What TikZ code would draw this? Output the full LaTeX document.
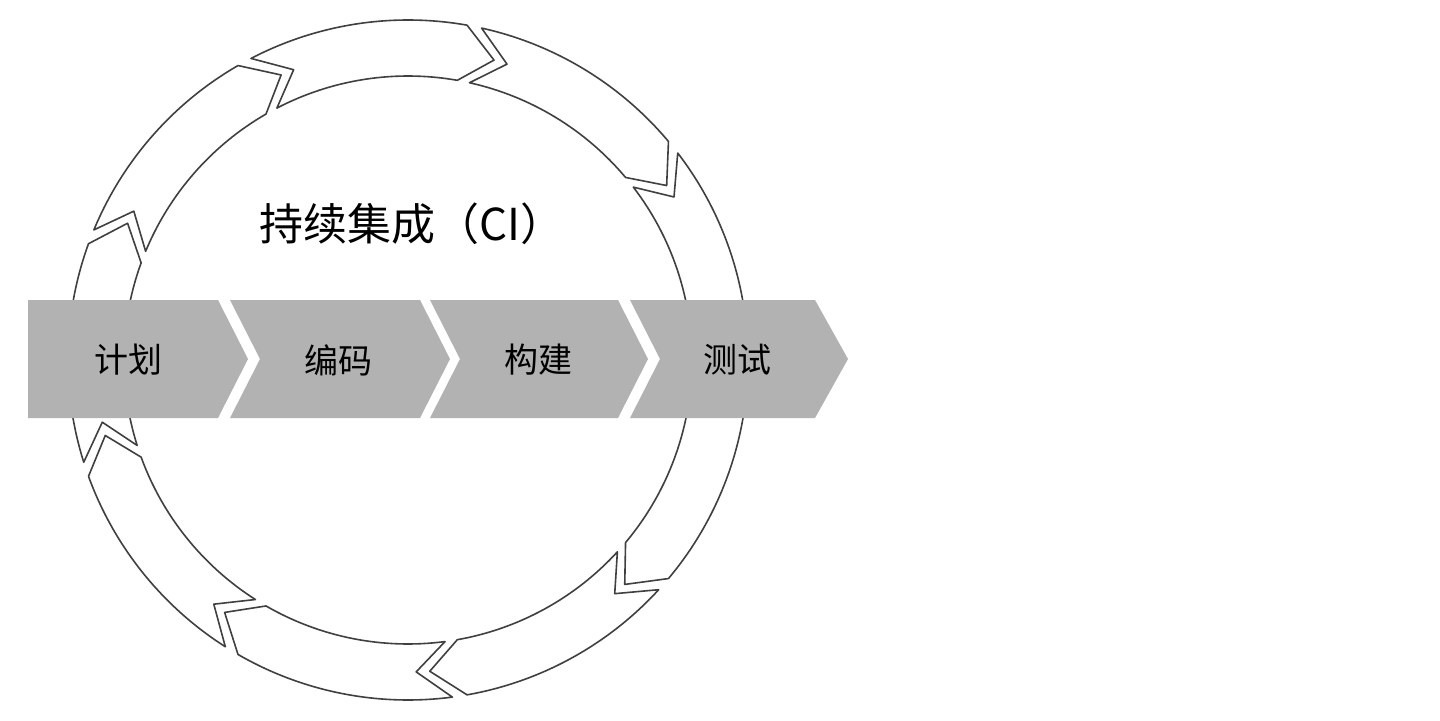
\documentclass[tikz,border=0pt]{standalone}
\usepackage{fontspec}
\newfontfamily\cjk{Noto Sans CJK SC}
\begin{document}
\begin{tikzpicture}[x=0.5pt,y=0.5pt,
  seg/.style={draw=black!75,line width=0.8pt,fill=white,line join=round},
  bar/.style={fill=black!30,draw=none},
  lab/.style={font=\cjk\fontsize{17}{20}\selectfont}]
\useasboundingbox (0,0) rectangle (1440,720);
\fill[white] (0,0) rectangle (1440,720);
\def\Ro{340}\def\Ri{284}\def\Rm{312}\def\d{6}\def\g{2.5}
\begin{scope}[shift={(408,360)}]
\foreach \b in {80,40,0,-40,-80,-120,-160,-200,-240}{
  \pgfmathsetmacro\bs{\b-\g}
  \pgfmathsetmacro\be{\b-40}
  \pgfmathsetmacro\tp{\be-\d}
  \pgfmathsetmacro\nt{\bs-\d}
  \draw[seg] (\bs:\Ro) arc[start angle=\bs,end angle=\be,radius=\Ro]
    -- (\tp:\Rm) -- (\be:\Ri) arc[start angle=\be,end angle=\bs,radius=\Ri]
    -- (\nt:\Rm) -- cycle;
}
\end{scope}
\fill[bar] (28,302) -- (218,302) -- (248,361) -- (218,420) -- (28,420) -- cycle;
\fill[bar] (230,302) -- (420,302) -- (450,361) -- (420,420) -- (230,420) -- (260,361) -- cycle;
\fill[bar] (430,302) -- (618,302) -- (648,361) -- (618,420) -- (430,420) -- (460,361) -- cycle;
\fill[bar] (630,302) -- (815,302) -- (848,361) -- (815,420) -- (630,420) -- (660,361) -- cycle;
\node[lab] (p1) at (128,360) {计划};
\node[lab] (p2) at (338,360) {编码};
\node[lab] (p3) at (538,360) {构建};
\node[lab] (p4) at (737,360) {测试};
\node[font=\cjk\fontsize{22}{26}\selectfont] (t) at (412,496) {持续集成（CI）};
\end{tikzpicture}
\end{document}
